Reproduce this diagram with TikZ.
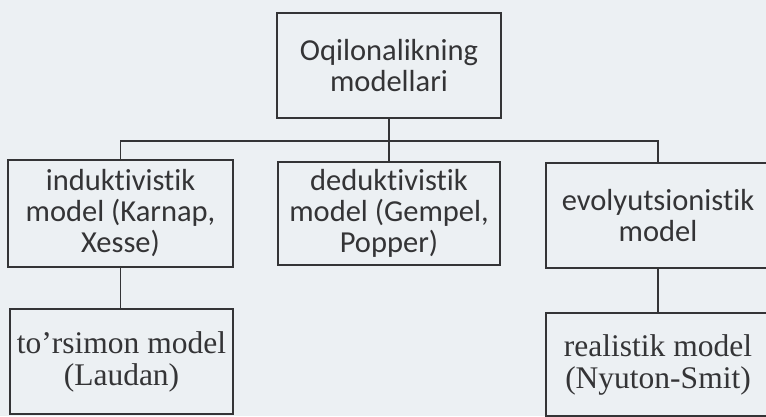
\documentclass[tikz,border=0pt]{standalone}
\usepackage{fontspec}
\newfontfamily\schemefont{Carlito}[Ligatures=NoCommon]
\newfontfamily\leaffont{Liberation Serif}
\definecolor{paper}{RGB}{236,240,243}
\definecolor{ink}{RGB}{52,52,54}

\begin{document}
\begin{tikzpicture}[x=1pt,y=-1pt,
  box/.style={draw=ink,line width=2.8pt,fill=paper,text=ink,align=center,inner sep=0pt},
  modelbox/.style={box,font=\schemefont\fontsize{30.5}{31}\selectfont},
  leafbox/.style={box,font=\leaffont\fontsize{31.5}{32}\selectfont},
  link/.style={draw=ink,line width=1.8pt}]
\clip (0,0) rectangle (766,416);
\fill[paper] (0,0) rectangle (766,416);
\node[modelbox,minimum width=224pt,minimum height=105pt] at (389,65.5) (top) {Oqilonalikning\\modellari};
\coordinate (bus) at (389,141);
\node[modelbox,minimum width=225pt,minimum height=107pt] at (120.5,213.5) (ind) {induktivistik\\model (Karnap,\\Xesse)};
\node[modelbox,minimum width=222pt,minimum height=103pt] at (389,213.5) (ded) {deduktivistik\\model (Gempel,\\Popper)};
\node[modelbox,minimum width=224pt,minimum height=105pt] at (658,215.5) (evo) {evolyutsionistik\\model};
\node[leafbox,minimum width=223pt,minimum height=105pt] at (121.5,361.5) (tor) {to’rsimon model\\(Laudan)};
\node[leafbox,minimum width=224pt,minimum height=103pt] at (658,364.5) (real) {realistik model\\(Nyuton-Smit)};
\draw[link] (top.south) -- (ded.north);
\draw[link] (ind.north) -- (ind.north |- bus) -- (evo.north |- bus) -- (evo.north);
\draw[link] (ind.south) -- (ind.south |- tor.north);
\draw[link] (evo.south) -- (real.north);
\end{tikzpicture}
\end{document}
